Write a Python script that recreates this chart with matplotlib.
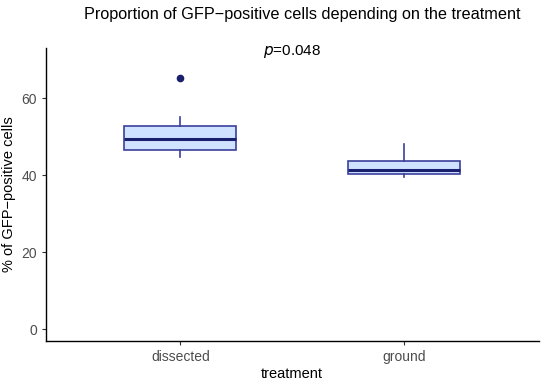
import matplotlib
matplotlib.use("Agg")
import matplotlib.pyplot as plt

plt.rcParams['font.family'] = ['Liberation Sans', 'DejaVu Sans']

# Box statistics
groups = ['dissected', 'ground']
med = [49.4, 41.3]
q1 = [46.6, 40.3]
q3 = [52.7, 43.6]
whislo = [44.7, 39.5]
whishi = [55.1, 48.1]
outliers = [[65.2], []]
p_label = '$p$=0.048'

stats = []
for i, g in enumerate(groups):
    stats.append(dict(label=g, med=med[i], q1=q1[i], q3=q3[i],
                      whislo=whislo[i], whishi=whishi[i], fliers=outliers[i]))

fig = plt.figure(figsize=(5.5, 3.85), dpi=100)
ax = fig.add_axes([0.0836, 0.114, 0.8955, 0.761])

edge = '#3b3f9c'
ax.bxp(stats, positions=[1, 2], widths=0.5, patch_artist=True, showcaps=False,
       boxprops=dict(facecolor='#cfe2ff', edgecolor=edge, linewidth=1.2),
       whiskerprops=dict(color=edge, linewidth=1.2),
       medianprops=dict(color='#1a1f6e', linewidth=2.2),
       flierprops=dict(marker='o', markerfacecolor='#1a1f6e', markeredgecolor='#1a1f6e',
                       markersize=4.5))

ax.set_xlim(0.4, 2.6)
ax.set_ylim(-3.1, 73)
ax.set_yticks([0, 20, 40, 60])
ax.set_xticks([1, 2])
ax.set_xticklabels(groups)

for s in ['top', 'right']:
    ax.spines[s].set_visible(False)
for s in ['left', 'bottom']:
    ax.spines[s].set_linewidth(1.0)
    ax.spines[s].set_color('black')
ax.tick_params(axis='both', colors='#333333', labelcolor='#4d4d4d', labelsize=10,
               length=3, width=0.8)

ax.set_xlabel('treatment', fontsize=10.5, labelpad=2)
ax.set_ylabel('% of GFP\u2212positive cells', fontsize=10.5, labelpad=4)

ax.text(1.5, 72, p_label, ha='center', va='center', fontsize=11)
fig.text(0.55, 0.963, 'Proportion of GFP\u2212positive cells depending on the treatment',
         ha='center', va='center', fontsize=11.7)

fig.savefig('out.png', dpi=100)
